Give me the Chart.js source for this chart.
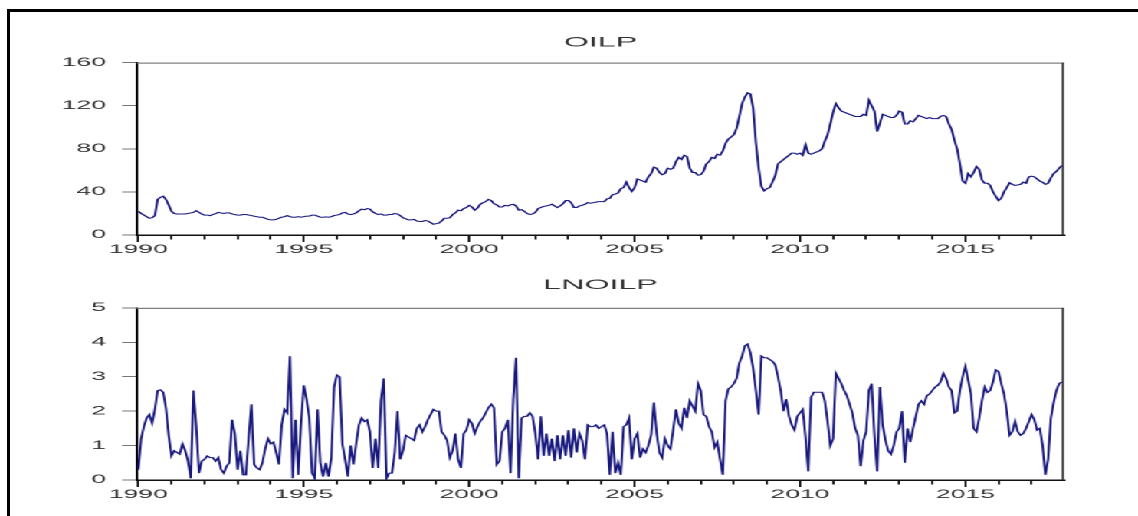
<!DOCTYPE html>
<html><head><meta charset="utf-8">
<script src="https://cdn.jsdelivr.net/npm/chart.js@4.4.1/dist/chart.umd.min.js"></script>
<style>
html,body{margin:0;padding:0;background:#fff;overflow:hidden;}
#stage{position:relative;width:1138px;height:516px;background:#fff;}
#wrap{position:absolute;left:0;top:0;width:495px;height:516px;transform:scaleX(2.29899);transform-origin:0 0;}
#wrap canvas{position:absolute;left:0;}
.frameTop{position:absolute;left:7px;top:9px;width:1131px;height:3px;background:#000;}
.frameLeft{position:absolute;left:7px;top:9px;width:3px;height:507px;background:#000;}
</style></head><body>
<div id="stage">
  <div id="wrap">
    <canvas id="c1" width="495" height="258" style="top:0;width:495px;height:258px"></canvas>
    <canvas id="c2" width="495" height="258" style="top:258px;width:495px;height:258px"></canvas>
  </div>
  <div class="frameTop"></div><div class="frameLeft"></div>
</div>
<script>
// ---- data (monthly, 1990M01 - 2017M12) ----
const startYear = 1990;
const monthCount = 336;
const months = Array.from({length: monthCount}, (_, i) => startYear + i / 12);

const oilp = [
  22, 20, 18.5, 17, 15.5, 16, 18, 33, 35, 36, 33, 28,
  22, 20, 19.5, 19.5, 19.5, 19.5, 20, 20.5, 21, 22.5, 21, 19.5,
  18.5, 18.5, 18, 19, 19.8, 21, 20.5, 20, 20.5, 20.5, 19.5, 19,
  18.5, 18.5, 19, 19, 18.5, 18, 17.5, 17, 16.5, 16.5, 15.5, 14.5,
  14, 14, 14.5, 15.5, 16.5, 17, 18, 17, 16.5, 16.5, 17, 16.5,
  17, 17.5, 17.5, 18.5, 18.5, 17.5, 16.5, 16.5, 16.8, 16.5, 17, 18,
  18.5, 19, 20.5, 21, 19.5, 19, 19.5, 20.5, 22.5, 24, 23.5, 24.5,
  24, 21.5, 20, 19, 19.5, 18.5, 18.5, 19, 19, 20, 19.5, 18,
  16, 15, 14, 14, 14.5, 13, 12.5, 12.5, 13.5, 13, 11.5, 10,
  10.5, 11, 13, 15.5, 15.5, 16, 19, 20.5, 23, 22.5, 24.5, 25.5,
  27.5, 26, 23, 25, 28.5, 30, 31, 33, 32, 29, 28, 26,
  26, 27.5, 27, 28, 28.5, 27, 23, 23.5, 22, 20, 19, 19.5,
  21, 24.5, 25.5, 26.5, 27, 27.5, 28.5, 27, 25.5, 27, 29, 32,
  32, 30, 25.5, 25.5, 27, 27.5, 28.5, 30, 29.5, 30, 30.5, 31,
  31, 31, 33.5, 34, 37.5, 38, 39, 43, 44, 49, 44, 40.5,
  44, 52, 51, 50, 49, 54, 57, 63, 62, 58, 56, 57,
  62, 61, 62, 68, 72, 70, 74, 73, 62, 58, 58, 55.5,
  56, 59, 66, 68, 72, 71, 75, 74, 78, 85, 89, 91,
  93, 99, 110, 122, 128, 132, 131, 118, 86, 62, 45, 41,
  43, 44, 49, 55, 66, 68, 70, 72, 74, 76, 76, 75,
  76, 74, 84, 76, 75, 76, 77, 78, 80, 87, 93, 103,
  114, 122, 118, 115, 114, 113, 112, 111, 110, 110, 110, 112,
  111, 125, 120, 115, 96, 104, 112, 111, 110, 109, 109, 111,
  115, 114, 103, 103, 106, 105, 108, 111, 110, 109, 108, 109,
  108, 108, 108, 110, 111, 110, 103, 98, 88, 80, 66, 50,
  48, 57, 54, 58, 63.5, 61, 51, 48, 48, 46, 40, 36,
  32, 34, 40, 44, 48.5, 47, 46, 46.5, 47, 49, 48, 54,
  54.6, 54, 52, 50, 49, 47, 48, 53, 57, 59, 62, 64.5
];

const lnoilp = [
  0.3, 1.2, 1.55, 1.8, 1.9, 1.65, 2.05, 2.6, 2.62, 2.55, 2.1, 1.3,
  0.7, 0.85, 0.8, 0.75, 1.05, 0.85, 0.55, 0.05, 2.6, 1.55, 0.2, 0.55,
  0.6, 0.7, 0.65, 0.65, 0.55, 0.65, 0.3, 0.2, 0.4, 0.5, 1.75, 1.35,
  0.3, 0.85, 0.15, 0.15, 1.2, 2.2, 0.45, 0.35, 0.3, 0.5, 0.9, 1.2,
  1.05, 1.1, 0.8, 0.45, 1.6, 2.05, 1.95, 3.6, 0.05, 1.75, 0.15, 1.65,
  2.75, 2.35, 1.8, 0.2, 0.05, 2.05, 0.5, 0.1, 0.5, 0.1, 0.65, 2.7,
  3.05, 3.0, 1.05, 0.6, 0.1, 1.0, 0.45, 1.05, 1.6, 1.8, 1.7, 1.75,
  1.4, 0.35, 1.2, 0.35, 2.3, 2.95, 0.05, 0.2, 0.2, 0.8, 2.0, 0.6,
  0.85, 1.3, 1.25, 1.2, 1.15, 1.5, 1.6, 1.4, 1.55, 1.75, 1.9, 2.05,
  2.0, 2.0, 1.4, 1.3, 1.15, 0.65, 0.85, 1.35, 0.6, 0.35, 1.35, 1.45,
  1.75, 1.65, 1.35, 1.55, 1.7, 1.8, 1.95, 2.1, 2.2, 2.1, 0.45, 0.55,
  1.4, 1.5, 1.75, 0.2, 2.35, 3.55, 0.05, 1.8, 1.85, 1.85, 1.95, 1.85,
  1.35, 0.6, 1.85, 0.7, 1.35, 0.7, 1.2, 0.55, 1.3, 0.6, 1.3, 0.7,
  1.45, 0.65, 1.5, 0.8, 1.35, 1.15, 0.6, 1.6, 1.55, 1.55, 1.6, 1.5,
  1.55, 1.6, 1.35, 0.15, 1.4, 0.2, 0.5, 0.15, 1.55, 1.6, 1.8, 0.6,
  1.2, 1.35, 0.65, 0.9, 0.8, 1.0, 1.3, 2.25, 1.35, 0.8, 0.65, 1.2,
  1.0, 0.9, 1.45, 2.05, 1.65, 1.5, 2.1, 1.8, 2.3, 2.15, 2.0, 2.8,
  2.6, 1.9, 1.85, 1.55, 1.4, 0.95, 1.1, 0.6, 0.15, 2.3, 2.65, 2.7,
  2.8, 2.95, 3.4, 3.6, 3.9, 3.95, 3.7, 3.25, 2.6, 1.9, 3.6, 3.55,
  3.55, 3.5, 3.45, 3.35, 3.0, 2.6, 2.0, 2.35, 1.85, 1.6, 1.45, 1.85,
  1.95, 2.05, 1.25, 0.25, 2.4, 2.55, 2.55, 2.55, 2.55, 2.3, 1.7, 1.0,
  1.2, 3.1, 2.95, 2.8, 2.6, 2.45, 2.2, 1.95, 1.5, 1.3, 0.4, 1.15,
  1.4, 2.6, 2.8, 1.3, 0.25, 2.7, 1.6, 1.15, 0.85, 0.75, 1.0, 1.4,
  1.5, 2.0, 0.5, 1.5, 1.1, 1.5, 1.85, 2.2, 2.3, 2.2, 2.45, 2.5,
  2.6, 2.7, 2.75, 2.85, 3.1, 2.95, 2.7, 2.6, 1.95, 2.0, 2.6, 3.0,
  3.3, 2.9, 2.5, 1.5, 1.4, 1.8, 2.3, 2.7, 2.55, 2.6, 2.85, 3.2,
  3.15, 2.8, 2.5, 2.0, 1.3, 1.4, 1.7, 1.4, 1.3, 1.35, 1.5, 1.7,
  1.9, 1.75, 1.45, 1.5, 1.0, 0.15, 0.6, 1.8, 2.25, 2.6, 2.8, 2.85
];

const xTickYears = [1990,1991,1992,1993,1994,1995,1996,1997,1998,1999,2000,2001,2002,2003,
                    2004,2005,2006,2007,2008,2009,2010,2011,2012,2013,2014,2015,2016,2017];
const xTickLabels = ['1990','','','','','1995','','','','','2000','','','','',
                     '2005','','','','','2010','','','','','2015','',''];
const oilpTicks = [0, 40, 80, 120, 160];
const lnoilpTicks = [0, 1, 2, 3, 4, 5];

// ---- drawing ----
const FONT = "'Liberation Sans', Arial, sans-serif";
const framePlugin = {
  id: 'frame',
  afterDraw(chart) {
    const {ctx, chartArea: a} = chart;
    ctx.save();
    ctx.strokeStyle = '#808080'; ctx.lineWidth = 1.3;
    ctx.beginPath(); ctx.moveTo(a.left, a.top + 0.5); ctx.lineTo(a.right, a.top + 0.5); ctx.stroke();
    ctx.strokeStyle = '#333'; ctx.lineWidth = 1;
    ctx.beginPath(); ctx.moveTo(a.right - 0.5, a.top); ctx.lineTo(a.right - 0.5, a.bottom); ctx.stroke();
    ctx.restore();
  }
};

function makeChart(id, title, values, yTicks, titlePad, xAxisH) {
  new Chart(document.getElementById(id), {
    type: 'line',
    data: {
      datasets: [{
        data: values.map((v, i) => ({x: months[i], y: v})),
        borderColor: '#18187f', borderWidth: 1.0, pointRadius: 0, tension: 0, fill: false
      }]
    },
    plugins: [framePlugin],
    options: {
      responsive: false, animation: false, devicePixelRatio: 2,
      layout: {padding: {left: 0, right: 32.2, top: 0, bottom: 0}},
      plugins: {
        legend: {display: false}, tooltip: {enabled: false},
        title: {display: true, fullSize: false, text: title, color: '#333',
                font: {family: FONT, size: 14, weight: 'normal'},
                padding: titlePad}
      },
      scales: {
        x: {
          type: 'linear', min: 1989.96, max: 2017.98,
          afterBuildTicks: s => { s.ticks = xTickYears.map(v => ({value: v})); },
          afterFit: s => { s.height = xAxisH; },
          ticks: {autoSkip: false, maxRotation: 0, minRotation: 0, padding: 1, color: '#333',
                  font: {family: FONT, size: 11.5},
                  callback: (v, i) => xTickLabels[i]},
          grid: {drawOnChartArea: false, drawTicks: true, tickLength: 7, tickColor: '#222', tickWidth: 1,
                 tickBorderDash: c => (c.tick && Math.round(c.tick.value) % 5 === 0) ? [] : [3.5, 30]},
          border: {display: true, color: '#111', width: 1.5}
        },
        y: {
          min: yTicks[0], max: yTicks[yTicks.length - 1],
          afterBuildTicks: s => { s.ticks = yTicks.map(v => ({value: v})); },
          afterFit: s => { s.width = 59.6; },
          ticks: {padding: 7, color: '#333', font: {family: FONT, size: 11.5},
                  callback: v => String(v)},
          grid: {drawOnChartArea: false, drawTicks: true, tickLength: 6.5, tickColor: '#666', tickWidth: 0.9},
          border: {display: true, color: '#000', width: 1.1}
        }
      }
    }
  });
}

makeChart('c1', 'OILP', oilp, oilpTicks, {top: 34.1, bottom: 11.7}, 23);
makeChart('c2', 'LNOILP', lnoilp, lnoilpTicks, {top: 18.6, bottom: 14.5}, 36);
</script>
</body></html>
